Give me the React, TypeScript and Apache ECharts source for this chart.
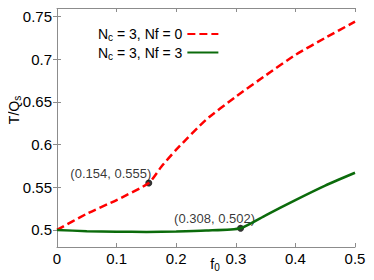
import React, { useEffect, useRef } from "react";
import * as echarts from "echarts";

const fRed = [0, 0.05, 0.1, 0.154, 0.175, 0.2, 0.25, 0.3, 0.35, 0.4, 0.45, 0.5];
const tRed = [0.5, 0.519, 0.535, 0.555, 0.574, 0.594, 0.629, 0.656, 0.681, 0.705, 0.725, 0.744];
const fGreen = [0, 0.05, 0.1, 0.15, 0.2, 0.25, 0.308, 0.35, 0.4, 0.45, 0.5];
const tGreen = [0.5, 0.4985, 0.4978, 0.4977, 0.4982, 0.4993, 0.502, 0.517, 0.535, 0.552, 0.567];
const markF = [0.154, 0.308];
const markT = [0.555, 0.502];
const markLabels = ["(0.154, 0.555)", "(0.308, 0.502)"];
const yTicks = [0.5, 0.55, 0.6, 0.65, 0.7, 0.75];
const seriesNames = ["Nf0", "Nf3"];
const legendTexts = ["{n|N}{sub|c}{n| = 3, Nf = 0}", "{n|N}{sub|c}{n| = 3, Nf = 3}"];

const FONT = "Liberation Sans, Arial, sans-serif";
const AXIS_COLOR = "#8c8c8c";

export default function App() {
  const ref = useRef<HTMLDivElement>(null);
  useEffect(() => {
    const chart = echarts.init(ref.current!, null, { renderer: "svg" });
    const tickLabel = { color: "#000", fontSize: 15, fontFamily: FONT };
    const fmt = (v: number) => String(+Number(v).toFixed(2));
    const xCommon = {
      type: "value",
      min: 0,
      max: 0.5,
      interval: 0.1,
      axisLine: { show: true, lineStyle: { color: AXIS_COLOR, width: 1 } },
      axisTick: { show: true, inside: true, length: 4, lineStyle: { color: AXIS_COLOR } },
      splitLine: { show: false },
    };
    const yCommon = {
      type: "value",
      min: 0.48,
      max: 0.76,
      axisLine: { show: true, lineStyle: { color: AXIS_COLOR, width: 1 } },
      axisTick: { show: true, inside: true, length: 4, customValues: yTicks, lineStyle: { color: AXIS_COLOR } },
      splitLine: { show: false },
    };
    const rich = {
      n: { fontSize: 14, fontFamily: FONT, color: "#000" },
      sub: { fontSize: 10, fontFamily: FONT, color: "#000", padding: [7, 0, 0, 0] },
    };
    chart.setOption({
      animation: false,
      grid: { left: 57, right: 19, top: 8, bottom: 33, outerBoundsMode: "none", containLabel: false },
      xAxis: [
        { ...xCommon, position: "bottom", axisLabel: { ...tickLabel, margin: 4, formatter: fmt } },
        { ...xCommon, position: "top", axisLabel: { show: false } },
      ],
      yAxis: [
        {
          ...yCommon,
          position: "left",
          name: "{n|T/Q}{sub|s}",
          nameLocation: "middle",
          nameRotate: 90,
          nameGap: 35,
          nameMoveOverlap: false,
          nameTextStyle: { rich, padding: [0, 0, 0, 35] },
          axisLabel: { ...tickLabel, margin: 5, customValues: yTicks, formatter: fmt },
        },
        { ...yCommon, position: "right", axisLabel: { show: false } },
      ],
      legend: {
        orient: "vertical",
        left: 93,
        top: 22,
        align: "right",
        itemWidth: 31,
        itemHeight: 10,
        itemGap: 3,
        itemStyle: { opacity: 0 },
        data: seriesNames,
        formatter: (name: string) => legendTexts[seriesNames.indexOf(name)],
        textStyle: { rich },
      },
      graphic: [
        {
          type: "text",
          x: 215,
          y: 264,
          style: {
            text: "{n|f}{sub|0}",
            rich,
            align: "center",
            verticalAlign: "middle",
          },
        },
      ],
      series: [
        {
          name: seriesNames[0],
          type: "line",
          symbol: "none",
          smooth: 0.2,
          data: fRed.map((f, i) => [f, tRed[i]]),
          lineStyle: { color: "#ff0000", width: 2.5, type: [8, 4] },
          itemStyle: { color: "#ff0000" },
        },
        {
          name: seriesNames[1],
          type: "line",
          symbol: "none",
          smooth: 0.2,
          data: fGreen.map((f, i) => [f, tGreen[i]]),
          lineStyle: { color: "#0b6b0b", width: 2.5 },
          itemStyle: { color: "#0b6b0b" },
        },
        {
          name: "marks",
          type: "scatter",
          symbolSize: 7,
          itemStyle: { color: "#000" },
          data: markF.map((f, i) => ({
            value: [f, markT[i]],
            label: {
              show: true,
              formatter: markLabels[i],
              position: "left",
              distance: 0,
              offset: i === 0 ? [6, -9] : [18, -10],
              fontSize: 13,
              fontFamily: FONT,
              color: "#000",
            },
          })),
        },
      ],
    });
    return () => chart.dispose();
  }, []);
  return <div ref={ref} style={{ width: 374, height: 280, margin: -8 }} />;
}
